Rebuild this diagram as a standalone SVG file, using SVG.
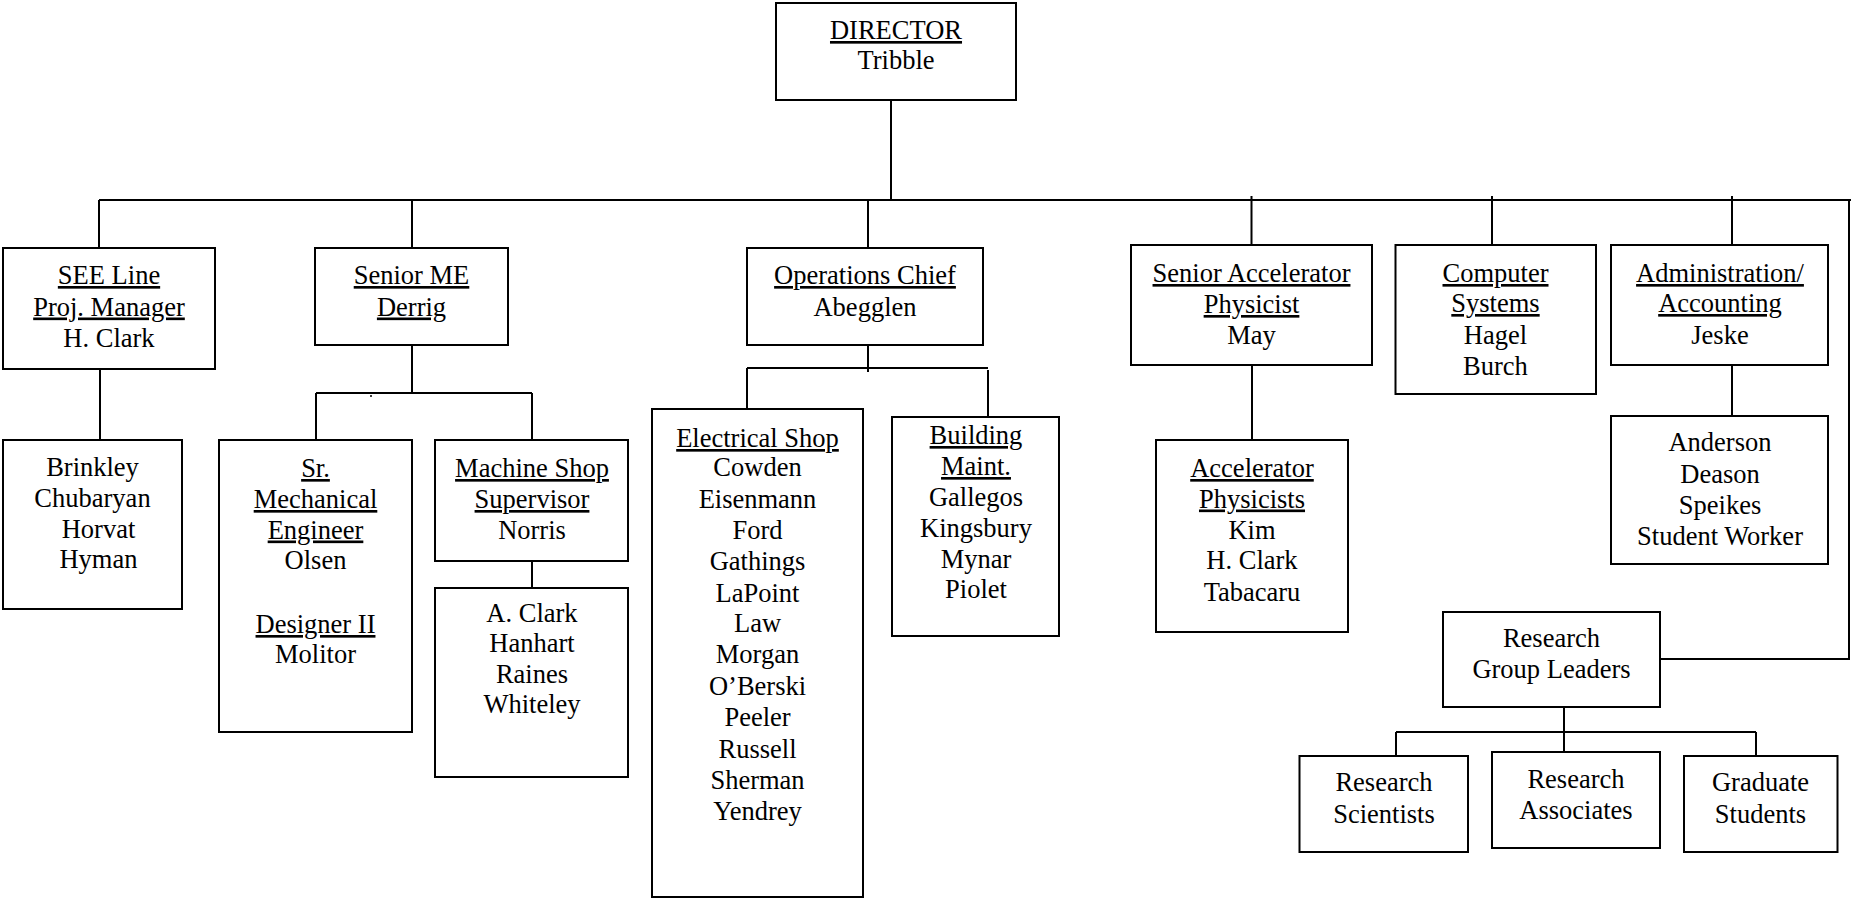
<svg xmlns="http://www.w3.org/2000/svg" width="1851" height="899" viewBox="0 0 1851 899">
  <style>
    .box { fill: #fff; stroke: #000; stroke-width: 2; }
    .wire { fill: none; stroke: #000; stroke-width: 2; }
    text { font-family: "Liberation Serif", "Times New Roman", serif; font-size: 26.5px; fill: #000; text-anchor: middle; }
    .u { text-decoration: underline; }
  </style>
  <rect width="1851" height="899" fill="#fff"/>

  <!-- connectors -->
  <g id="connectors" class="wire">
    <path d="M891 100 V200"/>
    <path d="M99 200 H1851"/>
    <path d="M99 200 V248 M412 200 V248 M868 200 V248"/>
    <path d="M1251.5 196 V245 M1492 196 V245 M1732 196 V245"/>
    <path d="M1849 200 V659 H1660"/>
    <path d="M100 370 V440"/>
    <path d="M412 345 V393 M316 393 H532 M316 393 V440 M532 393 V440"/>
    <path d="M532 561 V588"/>
    <path d="M868 345 V372 M747 368 H988 M747 368 V409 M988 370 V417"/>
    <path d="M1252 365 V440"/>
    <path d="M1732 365 V416"/>
    <path d="M1564 707 V752 M1396 732 H1756 M1396 732 V756 M1756 732 V756"/>
  </g>
  <circle cx="371" cy="396" r="1" fill="#000"/>

  <g id="director">
    <rect class="box" x="776" y="3" width="240" height="97"/>
    <text x="896" y="39" class="u">DIRECTOR</text>
    <text x="896" y="69">Tribble</text>
  </g>

  <g id="see-line">
    <rect class="box" x="3" y="248" width="212" height="121"/>
    <text x="109" y="284" class="u">SEE Line</text>
    <text x="109" y="315.5" class="u">Proj. Manager</text>
    <text x="109" y="347">H. Clark</text>
  </g>

  <g id="see-staff">
    <rect class="box" x="3" y="440" width="179" height="169"/>
    <text x="92.5" y="476">Brinkley</text>
    <text x="92.5" y="507">Chubaryan</text>
    <text x="98.5" y="537.5">Horvat</text>
    <text x="98.5" y="568">Hyman</text>
  </g>

  <g id="senior-me">
    <rect class="box" x="315" y="248" width="193" height="97"/>
    <text x="411.5" y="284" class="u">Senior ME</text>
    <text x="411.5" y="315.5" class="u">Derrig</text>
  </g>

  <g id="sr-mech-engineer">
    <rect class="box" x="219" y="440" width="193" height="292"/>
    <text x="315.5" y="477" class="u">Sr.</text>
    <text x="315.5" y="508" class="u">Mechanical</text>
    <text x="315.5" y="538.5" class="u">Engineer</text>
    <text x="315.5" y="569">Olsen</text>
    <text x="315.5" y="633" class="u">Designer II</text>
    <text x="315.5" y="663">Molitor</text>
  </g>

  <g id="machine-shop">
    <rect class="box" x="435" y="440" width="193" height="121"/>
    <text x="532" y="477" class="u">Machine Shop</text>
    <text x="532" y="508" class="u">Supervisor</text>
    <text x="532" y="538.5">Norris</text>
  </g>

  <g id="machine-shop-staff">
    <rect class="box" x="435" y="588" width="193" height="189"/>
    <text x="532" y="622">A. Clark</text>
    <text x="532" y="652">Hanhart</text>
    <text x="532" y="683">Raines</text>
    <text x="532" y="713">Whiteley</text>
  </g>

  <g id="operations-chief">
    <rect class="box" x="747" y="248" width="236" height="97"/>
    <text x="865" y="284" class="u">Operations Chief</text>
    <text x="865" y="315.5">Abegglen</text>
  </g>

  <g id="electrical-shop">
    <rect class="box" x="652" y="409" width="211" height="488"/>
    <text x="757.5" y="447" class="u">Electrical Shop</text>
    <text x="757.5" y="476">Cowden</text>
    <text x="757.5" y="507.5">Eisenmann</text>
    <text x="757.5" y="539">Ford</text>
    <text x="757.5" y="570">Gathings</text>
    <text x="757.5" y="601.5">LaPoint</text>
    <text x="757.5" y="632">Law</text>
    <text x="757.5" y="663">Morgan</text>
    <text x="757.5" y="694.5">O’Berski</text>
    <text x="757.5" y="726">Peeler</text>
    <text x="757.5" y="757.5">Russell</text>
    <text x="757.5" y="789">Sherman</text>
    <text x="757.5" y="820">Yendrey</text>
  </g>

  <g id="building-maint">
    <rect class="box" x="892" y="417" width="167" height="219"/>
    <text x="976" y="444" class="u">Building</text>
    <text x="976" y="475" class="u">Maint.</text>
    <text x="976" y="505.5">Gallegos</text>
    <text x="976" y="537">Kingsbury</text>
    <text x="976" y="568">Mynar</text>
    <text x="976" y="598">Piolet</text>
  </g>

  <g id="senior-accelerator-physicist">
    <rect class="box" x="1131" y="245" width="241" height="120"/>
    <text x="1251.5" y="282" class="u">Senior Accelerator</text>
    <text x="1251.5" y="313" class="u">Physicist</text>
    <text x="1251.5" y="344">May</text>
  </g>

  <g id="accelerator-physicists">
    <rect class="box" x="1156" y="440" width="192" height="192"/>
    <text x="1252" y="477" class="u">Accelerator</text>
    <text x="1252" y="507.5" class="u">Physicists</text>
    <text x="1252" y="538.5">Kim</text>
    <text x="1252" y="569">H. Clark</text>
    <text x="1252" y="601">Tabacaru</text>
  </g>

  <g id="computer-systems">
    <rect class="box" x="1395.5" y="245" width="200.5" height="149"/>
    <text x="1495.5" y="282" class="u">Computer</text>
    <text x="1495.5" y="312" class="u">Systems</text>
    <text x="1495.5" y="343.5">Hagel</text>
    <text x="1495.5" y="374.5">Burch</text>
  </g>

  <g id="administration">
    <rect class="box" x="1611" y="245" width="217" height="120"/>
    <text x="1720" y="282" class="u">Administration/</text>
    <text x="1720" y="312" class="u">Accounting</text>
    <text x="1720" y="343.5">Jeske</text>
  </g>

  <g id="administration-staff">
    <rect class="box" x="1611" y="416" width="217" height="148"/>
    <text x="1720" y="451">Anderson</text>
    <text x="1720" y="483">Deason</text>
    <text x="1720" y="514">Speikes</text>
    <text x="1720" y="545">Student Worker</text>
  </g>

  <g id="research-group-leaders">
    <rect class="box" x="1443" y="612" width="217" height="95"/>
    <text x="1551.5" y="647">Research</text>
    <text x="1551.5" y="678">Group Leaders</text>
  </g>

  <g id="research-scientists">
    <rect class="box" x="1299.5" y="756" width="168.5" height="96"/>
    <text x="1384" y="791">Research</text>
    <text x="1384" y="822.5">Scientists</text>
  </g>

  <g id="research-associates">
    <rect class="box" x="1492" y="752" width="168" height="96"/>
    <text x="1576" y="788">Research</text>
    <text x="1576" y="818.5">Associates</text>
  </g>

  <g id="graduate-students">
    <rect class="box" x="1684" y="756" width="153.5" height="96"/>
    <text x="1760.5" y="791">Graduate</text>
    <text x="1760.5" y="822.5">Students</text>
  </g>
</svg>
